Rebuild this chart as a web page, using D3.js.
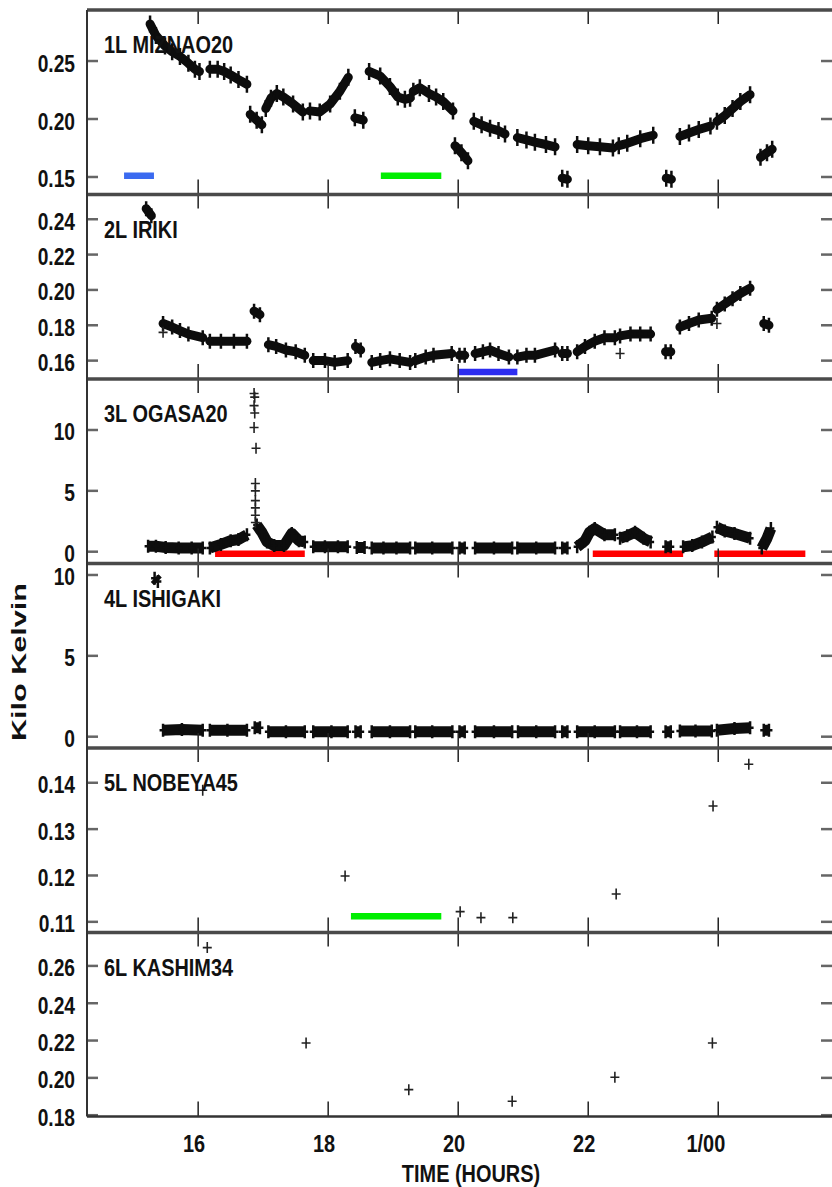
<!DOCTYPE html>
<html><head><meta charset="utf-8">
<script src="https://cdn.jsdelivr.net/npm/d3@7"></script>
<style>html,body{margin:0;padding:0;background:#fff;} svg{display:block;}</style>
</head><body>
<svg id="chart" width="832" height="1187"></svg>
<script>
// ---------------- DATA ----------------
const hourTicks = [16, 18, 20, 22, 24];
const hourTickLabels = ["16", "18", "20", "22", "1/00"];
const stationNames = ["1L MIZNAO20", "2L IRIKI", "3L OGASA20", "4L ISHIGAKI", "5L NOBEYA45", "6L KASHIM34"];

const yTicks1 = [0.15, 0.20, 0.25];
const yTickLabels1 = ["0.15", "0.20", "0.25"];
const yTicks2 = [0.16, 0.18, 0.20, 0.22, 0.24];
const yTickLabels2 = ["0.16", "0.18", "0.20", "0.22", "0.24"];
const yTicks3 = [0, 5, 10];
const yTickLabels3 = ["0", "5", "10"];
const yTicks4 = [0, 5, 10];
const yTickLabels4 = ["0", "5", "10"];
const yTicks5 = [0.11, 0.12, 0.13, 0.14];
const yTickLabels5 = ["0.11", "0.12", "0.13", "0.14"];
const yTicks6 = [0.18, 0.20, 0.22, 0.24, 0.26];
const yTickLabels6 = ["0.18", "0.20", "0.22", "0.24", "0.26"];

// [hour, kilo-kelvin] per scan segment
const miznaoSegments = [
  [[15.26,0.282],[15.35,0.272],[15.49,0.263],[15.60,0.258],[15.72,0.254],[15.85,0.248],[15.95,0.243],[16.02,0.241]],
  [[16.18,0.243],[16.30,0.243],[16.40,0.241],[16.50,0.238],[16.62,0.234],[16.75,0.230]],
  [[16.80,0.204],[16.90,0.199],[16.98,0.195]],
  [[17.04,0.209],[17.12,0.218],[17.21,0.222],[17.31,0.219],[17.46,0.213],[17.61,0.206]],
  [[17.72,0.207],[17.87,0.206],[18.03,0.213],[18.18,0.224],[18.31,0.236]],
  [[18.41,0.201],[18.54,0.199]],
  [[18.63,0.241],[18.80,0.237],[18.95,0.228],[19.07,0.219],[19.18,0.217],[19.26,0.218]],
  [[19.31,0.224],[19.41,0.227],[19.55,0.222],[19.66,0.219],[19.77,0.215],[19.92,0.207]],
  [[19.95,0.177],[20.05,0.171],[20.15,0.164]],
  [[20.24,0.198],[20.36,0.195],[20.49,0.192],[20.62,0.190],[20.72,0.187]],
  [[20.91,0.184],[21.05,0.182],[21.18,0.180],[21.35,0.178],[21.49,0.176]],
  [[21.60,0.149],[21.68,0.148]],
  [[21.83,0.178],[22.00,0.177],[22.18,0.176],[22.38,0.175]],
  [[22.47,0.177],[22.60,0.179],[22.80,0.183],[23.00,0.186]],
  [[23.20,0.149],[23.28,0.148]],
  [[23.41,0.185],[23.55,0.188],[23.70,0.191],[23.88,0.194]],
  [[23.98,0.198],[24.10,0.203],[24.22,0.209],[24.34,0.215],[24.49,0.221]],
  [[24.65,0.167],[24.75,0.171],[24.83,0.174]]
];
const irikiSegments = [
  [[15.20,0.246],[15.28,0.242]],
  [[15.46,0.181],[15.60,0.179],[15.72,0.177],[15.85,0.175],[16.07,0.173]],
  [[16.18,0.171],[16.35,0.171],[16.55,0.171],[16.75,0.171]],
  [[16.86,0.188],[16.95,0.186]],
  [[17.08,0.169],[17.20,0.168],[17.35,0.166],[17.50,0.165],[17.64,0.163]],
  [[17.77,0.160],[17.95,0.160],[18.10,0.159],[18.30,0.160]],
  [[18.42,0.168],[18.50,0.166]],
  [[18.67,0.159],[18.80,0.160],[18.95,0.161],[19.10,0.160],[19.26,0.159]],
  [[19.34,0.160],[19.50,0.162],[19.62,0.163],[19.90,0.164]],
  [[20.02,0.163],[20.10,0.163]],
  [[20.26,0.164],[20.38,0.165],[20.49,0.166],[20.62,0.164],[20.78,0.162]],
  [[20.91,0.162],[21.05,0.163],[21.18,0.163],[21.49,0.166]],
  [[21.60,0.164],[21.68,0.164]],
  [[21.83,0.165],[21.95,0.168],[22.10,0.171],[22.25,0.173],[22.41,0.173]],
  [[22.49,0.174],[22.65,0.175],[22.80,0.175],[22.96,0.175]],
  [[23.19,0.165],[23.27,0.165]],
  [[23.41,0.179],[23.55,0.181],[23.70,0.183],[23.90,0.184]],
  [[23.98,0.189],[24.10,0.192],[24.22,0.195],[24.34,0.198],[24.49,0.201]],
  [[24.70,0.181],[24.78,0.180]]
];
const irikiSingles = [[15.46,0.176],[22.49,0.164],[23.98,0.181]];
const ogasaSegments = [
  [[15.23,0.45],[15.35,0.45],[15.50,0.35],[15.70,0.30],[15.90,0.30],[16.07,0.30]],
  [[16.18,0.30],[16.35,0.60],[16.50,0.90],[16.62,1.00],[16.75,1.40]],
  [[16.90,2.20],[16.98,1.60],[17.06,0.80],[17.17,0.50],[17.32,0.50],[17.44,1.50],[17.55,0.90],[17.64,0.80]],
  [[17.77,0.40],[17.95,0.40],[18.15,0.40],[18.30,0.40]],
  [[18.44,0.35],[18.56,0.35]],
  [[18.67,0.30],[18.85,0.30],[19.05,0.30],[19.26,0.30]],
  [[19.34,0.30],[19.60,0.30],[19.91,0.30]],
  [[20.02,0.30],[20.10,0.30]],
  [[20.26,0.30],[20.55,0.30],[20.83,0.30]],
  [[20.91,0.30],[21.20,0.30],[21.49,0.30]],
  [[21.60,0.30],[21.68,0.30]],
  [[21.83,0.40],[21.95,0.90],[22.02,1.60],[22.10,1.90],[22.25,1.40],[22.41,1.40]],
  [[22.49,1.10],[22.60,1.30],[22.72,1.60],[22.85,1.10],[22.96,0.80]],
  [[23.19,0.40],[23.27,0.40]],
  [[23.46,0.40],[23.60,0.50],[23.75,0.80],[23.91,1.20]],
  [[23.98,2.00],[24.10,1.70],[24.25,1.50],[24.49,1.10]],
  [[24.67,0.30],[24.75,1.10],[24.81,1.90]]
];
const ogasaSpike = [[16.86,13.0],[16.87,12.7],[16.86,12.0],[16.87,11.4],[16.86,10.2],[16.89,8.5],
  [16.88,5.6],[16.88,5.0],[16.88,4.2],[16.88,3.6],[16.88,3.0],[16.88,2.4]];
const ishigakiSegments = [
  [[15.33,9.8],[15.38,9.6]],
  [[15.46,0.40],[15.75,0.45],[16.07,0.40]],
  [[16.18,0.40],[16.45,0.40],[16.75,0.40]],
  [[16.87,0.55],[16.95,0.55]],
  [[17.08,0.30],[17.35,0.30],[17.64,0.30]],
  [[17.77,0.30],[18.05,0.30],[18.30,0.30]],
  [[18.42,0.30],[18.50,0.30]],
  [[18.67,0.30],[18.95,0.30],[19.26,0.30]],
  [[19.34,0.30],[19.60,0.30],[19.91,0.30]],
  [[20.02,0.30],[20.10,0.30]],
  [[20.26,0.30],[20.55,0.30],[20.83,0.30]],
  [[20.92,0.30],[21.20,0.30],[21.49,0.30]],
  [[21.60,0.30],[21.68,0.30]],
  [[21.83,0.30],[22.10,0.30],[22.41,0.30]],
  [[22.49,0.30],[22.75,0.30],[22.96,0.30]],
  [[23.19,0.30],[23.27,0.30]],
  [[23.41,0.35],[23.65,0.35],[23.90,0.35]],
  [[23.98,0.40],[24.25,0.50],[24.49,0.55]],
  [[24.70,0.40],[24.78,0.40]]
];
const nobeyaPoints = [[16.07,0.1384],[18.26,0.1199],[20.03,0.1122],[20.35,0.1109],[20.84,0.1109],[22.43,0.1160],[23.92,0.1350],[24.47,0.1440]];
const kashimPoints = [[16.14,0.2698],[17.66,0.2187],[19.24,0.1937],[20.83,0.1875],[22.41,0.2003],[23.91,0.2187]];

// coloured observing bars: [start hour, end hour, level]
const miznaoBars = [[14.86,15.32,0.151],[18.81,19.74,0.151]];
const irikiBars = [[20.00,20.91,0.1536]];
const ogasaBars = [[16.26,17.64,-0.16],[22.07,23.46,-0.16],[23.94,25.34,-0.16]];
const nobeyaBars = [[18.35,19.74,0.1112]];

// ---------------- LAYOUT ----------------
const svg = d3.select("#chart");
const L = 87, R = 832;
const edges = [10, 194.5, 379, 563.5, 748, 932.5, 1116.5];
const x = d3.scaleLinear().domain([14.29, 25.75]).range([L, R]);

const panels = [
  {domain:[0.1349,0.2940], ticks:yTicks1, labels:yTickLabels1, segs:miznaoSegments, bw:9, mk:4, bars:miznaoBars, barColors:["#3b6af0","#00ee00"]},
  {domain:[0.1496,0.2540], ticks:yTicks2, labels:yTickLabels2, segs:irikiSegments, bw:9, mk:3, singles:irikiSingles, bars:irikiBars, barColors:["#2c2cf0"]},
  {domain:[-0.97,14.19], ticks:yTicks3, labels:yTickLabels3, segs:ogasaSegments, bw:11, mk:1, singles:ogasaSpike, bars:ogasaBars, barColors:["#ff0000","#ff0000","#ff0000"]},
  {domain:[-0.70,10.71], ticks:yTicks4, labels:yTickLabels4, segs:ishigakiSegments, bw:11, mk:1},
  {domain:[0.1077,0.1475], ticks:yTicks5, labels:yTickLabels5, singles:nobeyaPoints, bars:nobeyaBars, barColors:["#00ee00"]},
  {domain:[0.1793,0.2779], ticks:yTicks6, labels:yTickLabels6, singles:kashimPoints}
];

const FONT = "'Liberation Sans', Arial, sans-serif";
const plus = (cx, cy, rx, ry) => `M${cx-rx},${cy}H${cx+rx}M${cx},${cy-ry}V${cy+ry}`;

function condensedText(g, tx, ty, str, size, anchor, sx) {
  g.append("text")
    .attr("transform", `translate(${tx},${ty}) scale(${sx},1)`)
    .attr("text-anchor", anchor)
    .attr("font-family", FONT).attr("font-weight", "bold").attr("font-size", size)
    .attr("fill", "#111")
    .text(str);
}

panels.forEach((p, i) => {
  const top = edges[i], bottom = edges[i+1];
  const y = d3.scaleLinear().domain(p.domain).range([bottom, top]);
  const g = svg.append("g");
  const clip = "clip" + i;
  svg.append("clipPath").attr("id", clip).append("rect")
    .attr("x", L).attr("y", top).attr("width", R - L).attr("height", bottom - top);
  const dg = g.append("g").attr("clip-path", `url(#${clip})`);

  if (p.bars) {
    dg.selectAll(".bar").data(p.bars).join("line")
      .attr("x1", d => x(d[0])).attr("x2", d => x(d[1]))
      .attr("y1", d => y(d[2])).attr("y2", d => y(d[2]))
      .attr("stroke", (d, j) => p.barColors[j]).attr("stroke-width", 6.5);
  }
  if (p.segs) {
    const line = d3.line().x(d => x(d[0])).y(d => y(d[1]));
    dg.selectAll(".seg").data(p.segs).join("path")
      .attr("d", line).attr("fill", "none").attr("stroke", "#0d0d0d")
      .attr("stroke-width", p.bw).attr("stroke-linejoin", "round")
      .attr("stroke-linecap", i >= 2 ? "butt" : "round");
    const pts = p.segs.flat();
    dg.selectAll(".pm").data(pts).join("path")
      .attr("d", d => plus(x(d[0]), y(d[1]), 3.5, p.bw / 2 + p.mk))
      .attr("stroke", "#0d0d0d").attr("stroke-width", 2.5).attr("fill", "none");
  }
  if (p.singles) {
    dg.selectAll(".sg").data(p.singles).join("path")
      .attr("d", d => plus(x(d[0]), y(d[1]), 4.5, 5.5))
      .attr("stroke", "#222").attr("stroke-width", 1.6).attr("fill", "none");
  }

  g.selectAll(".ytl").data(p.ticks).join("line")
    .attr("x1", L).attr("x2", L + 11).attr("y1", d => y(d)).attr("y2", d => y(d))
    .attr("stroke", "#666").attr("stroke-width", 2.5);
  g.selectAll(".ytr").data(p.ticks).join("line")
    .attr("x1", R - 11).attr("x2", R).attr("y1", d => y(d)).attr("y2", d => y(d))
    .attr("stroke", "#666").attr("stroke-width", 2.5);
  p.ticks.forEach((t, j) => condensedText(g, 75, y(t) + 10.5, p.labels[j], 24, "end", 0.8));

  g.selectAll(".xtt").data(hourTicks).join("line")
    .attr("x1", d => x(d)).attr("x2", d => x(d)).attr("y1", top).attr("y2", top + 14)
    .attr("stroke", "#222").attr("stroke-width", 1.5);
  g.selectAll(".xtb").data(hourTicks).join("line")
    .attr("x1", d => x(d)).attr("x2", d => x(d)).attr("y1", bottom - 15).attr("y2", bottom)
    .attr("stroke", "#222").attr("stroke-width", 1.5);

  condensedText(g, 104, top + 43, stationNames[i], 24, "start", 0.83);
});

svg.selectAll(".hsep").data(edges.slice(0, -1)).join("line")
  .attr("x1", L).attr("x2", R).attr("y1", d => d).attr("y2", d => d)
  .attr("stroke", "#4a4a4a").attr("stroke-width", 3.5);
svg.append("line").attr("x1", L).attr("x2", R).attr("y1", edges[6]).attr("y2", edges[6])
  .attr("stroke", "#333").attr("stroke-width", 2.5);
svg.append("line").attr("x1", L).attr("x2", L).attr("y1", edges[0]).attr("y2", edges[6])
  .attr("stroke", "#333").attr("stroke-width", 2);

const ax = svg.append("g");
hourTicks.forEach((t, j) => condensedText(ax, x(t) + 7, 1152, hourTickLabels[j], 24, "end", 0.83));
condensedText(ax, 471, 1182, "TIME (HOURS)", 24, "middle", 0.83);

svg.append("text")
  .attr("transform", "translate(26,662) rotate(-90)")
  .attr("text-anchor", "middle")
  .attr("font-family", FONT).attr("font-weight", "bold").attr("font-size", 21)
  .attr("textLength", 158).attr("lengthAdjust", "spacingAndGlyphs")
  .attr("fill", "#111")
  .text("Kilo Kelvin");
</script>
</body></html>
